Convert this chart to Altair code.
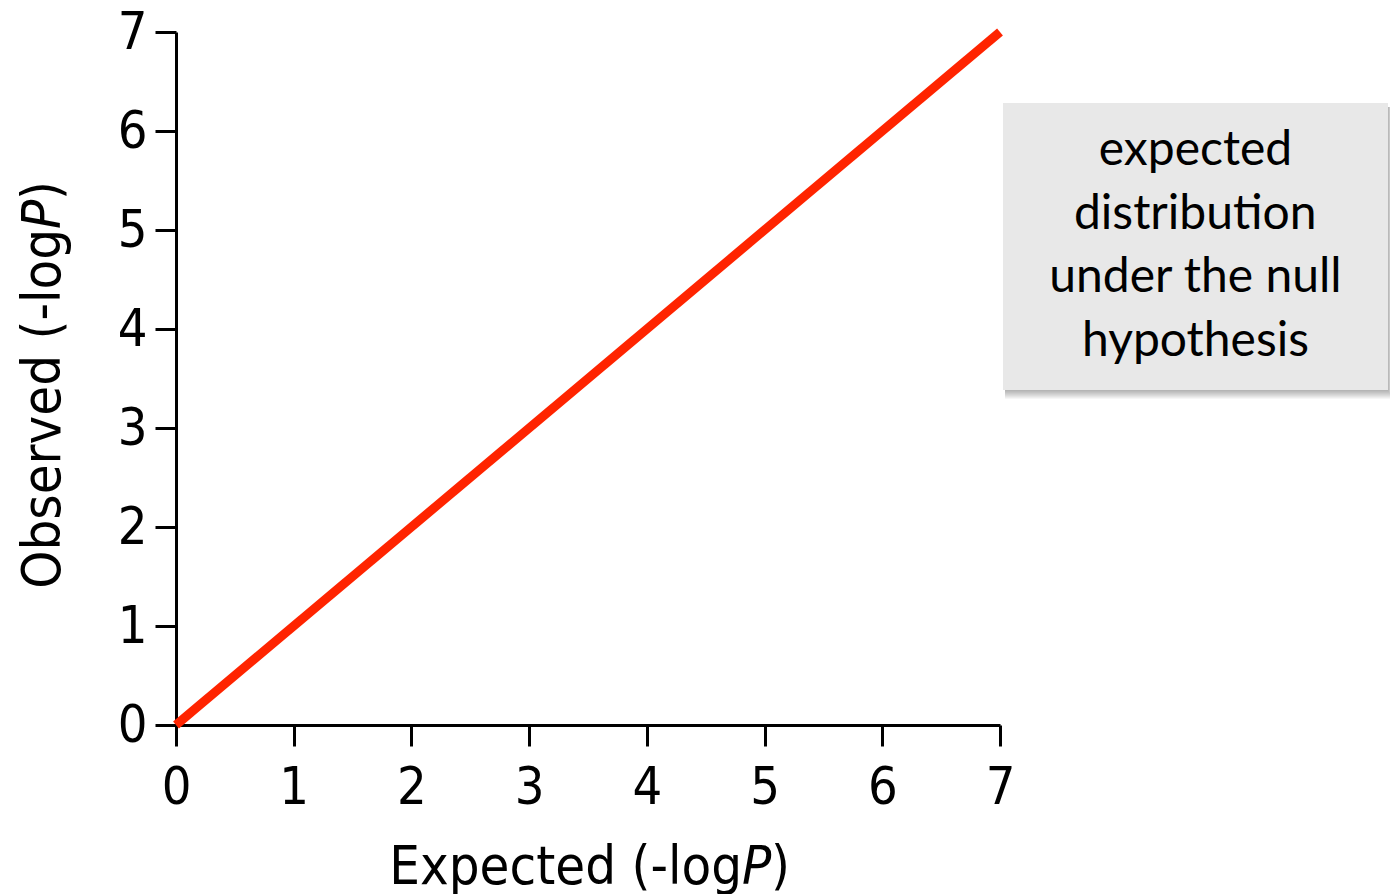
import altair as alt
import pandas as pd

# Null-hypothesis reference line for a QQ plot: observed equals expected
expected = [0, 7]
observed = [0, 7]
ticks = [0, 1, 2, 3, 4, 5, 6, 7]
note_lines = ["expected", "distribution", "under the null", "hypothesis"]

W, H = 824, 693
AXIS_FONT = "DejaVu Sans Condensed"
NOTE_FONT = "Lato"

line_df = pd.DataFrame({"expected": expected, "observed": observed})
one = pd.DataFrame({"k": [0]})

x_scale = alt.Scale(domain=[0, 7], nice=False, zero=False)
y_scale = alt.Scale(domain=[0, 7], nice=False, zero=False)

axis_common = dict(
    values=ticks,
    grid=False,
    title=None,
    domainColor="black",
    domainWidth=3,
    tickColor="black",
    tickWidth=3,
    tickSize=21,
    labelFont=AXIS_FONT,
    labelFontSize=52,
    labelColor="black",
    labelFlush=False,
    labelOverlap=False,
    format="d",
)

null_line = alt.Chart(line_df).mark_line(
    color="#FF2400", strokeWidth=9, strokeCap="butt", clip=False
).encode(
    x=alt.X("expected:Q", scale=x_scale,
            axis=alt.Axis(labelPadding=16, **axis_common)),
    y=alt.Y("observed:Q", scale=y_scale,
            axis=alt.Axis(labelPadding=8, **axis_common)),
)

# Axis titles with an italic P
title_style = dict(font=AXIS_FONT, fontSize=54, color="black")
XT_Y = 852
x_title_main = alt.Chart(one).mark_text(
    text="Expected (-log", align="right", baseline="alphabetic", **title_style
).encode(x=alt.value(566), y=alt.value(XT_Y))
x_title_p = alt.Chart(one).mark_text(
    text="P", align="left", baseline="alphabetic", fontStyle="italic", **title_style
).encode(x=alt.value(566), y=alt.value(XT_Y))
x_title_end = alt.Chart(one).mark_text(
    text=")", align="left", baseline="alphabetic", **title_style
).encode(x=alt.value(595), y=alt.value(XT_Y))

YT_X = -116
y_title_main = alt.Chart(one).mark_text(
    text="Observed (-log", align="right", baseline="alphabetic", angle=270, **title_style
).encode(x=alt.value(YT_X), y=alt.value(197))
y_title_p = alt.Chart(one).mark_text(
    text="P", align="left", baseline="alphabetic", angle=270, fontStyle="italic", **title_style
).encode(x=alt.value(YT_X), y=alt.value(197))
y_title_end = alt.Chart(one).mark_text(
    text=")", align="left", baseline="alphabetic", angle=270, **title_style
).encode(x=alt.value(YT_X), y=alt.value(168))

# Annotation box with a soft drop shadow
bx1, by1, bx2, by2 = 827, 71, 1212, 358
cx = (bx1 + bx2) / 2
shadow_layers = []
for k in range(1, 10):
    shadow_layers.append(
        alt.Chart(one).mark_rect(color="black", opacity=0.035, clip=False).encode(
            x=alt.value(bx1 + 2), x2=alt.value(bx2 + k * 0.5),
            y=alt.value(by1 + 4), y2=alt.value(by2 + k),
        )
    )
box = alt.Chart(one).mark_rect(color="#E8E8E8", clip=False).encode(
    x=alt.value(bx1), x2=alt.value(bx2), y=alt.value(by1), y2=alt.value(by2)
)

note_style = dict(font=NOTE_FONT, fontSize=48, color="black", baseline="alphabetic")
LH = 63.5
BASE = 133
note_layers = []
for i, line in enumerate(note_lines):
    y = BASE + i * LH
    if line == "distribution":
        # drawn in two runs so the font's "ti" ligature is not applied
        head, tail = line[:8], line[8:]
        note_layers.append(alt.Chart(one).mark_text(
            text=head, align="right", **note_style
        ).encode(x=alt.value(1057), y=alt.value(y)))
        note_layers.append(alt.Chart(one).mark_text(
            text=tail, align="left", **note_style
        ).encode(x=alt.value(1057), y=alt.value(y)))
    else:
        note_layers.append(alt.Chart(one).mark_text(
            text=line, align="center", **note_style
        ).encode(x=alt.value(cx), y=alt.value(y)))

chart = alt.layer(
    *shadow_layers, box, *note_layers,
    null_line,
    x_title_main, x_title_p, x_title_end,
    y_title_main, y_title_p, y_title_end,
).properties(
    width=W, height=H,
    background="white",
    autosize=alt.AutoSizeParams(type="none"),
    padding={"left": 176, "top": 32, "right": 390, "bottom": 169},
).configure_view(strokeWidth=0, stroke="transparent")

chart.save("out.html", embed_options={"renderer": "svg", "actions": False})
